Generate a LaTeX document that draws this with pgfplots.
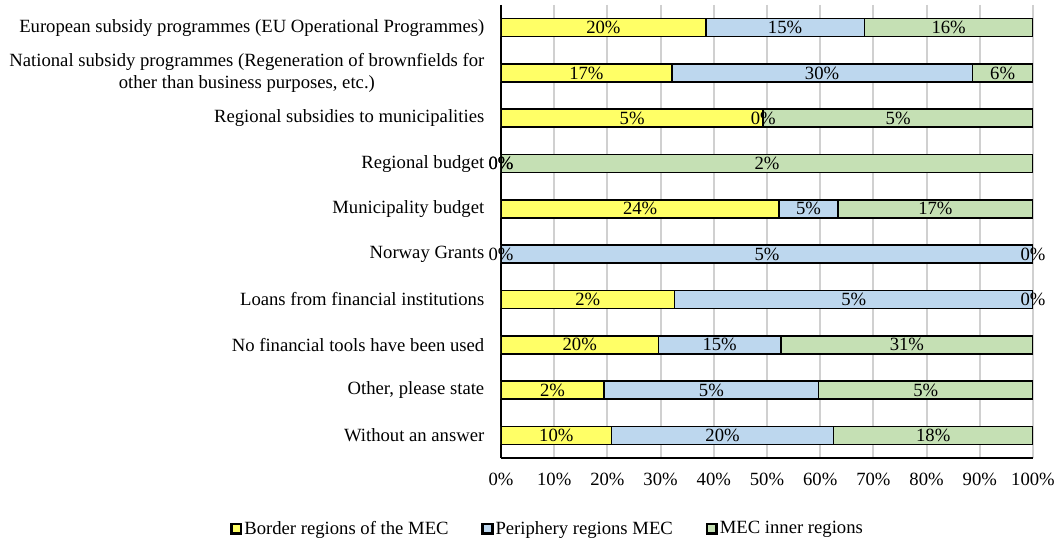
\documentclass[border=0pt]{standalone}
\usepackage{pgfplots}
\pgfplotsset{compat=1.18}
\usepackage{fontspec}
\setmainfont{Liberation Serif}
\definecolor{cy}{HTML}{FFFF66}
\definecolor{cb}{HTML}{BDD7EE}
\definecolor{cg}{HTML}{C5E0B4}
\definecolor{grd}{HTML}{D0D0D0}
\newcommand\f{\fontsize{14}{16.5}\selectfont}
\begin{document}
\begin{tikzpicture}
\pgfplotsset{
  common/.style={
    scale only axis, width=399pt, height=339.75pt,
    xmin=0, xmax=100, ymin=-0.5, ymax=9.5, y dir=reverse,
  },
  sq/.style={legend image code/.code={\fill[black] (0pt,-4pt) rectangle (8pt,4pt);
    \fill[##1] (0.9pt,-3.1pt) rectangle (7.1pt,3.1pt);}},
}
\begin{axis}[common, name=main,
  xbar stacked, bar width=13.5pt,
  axis x line*=bottom, axis y line*=left,
  axis line style={black, line width=1pt},
  major tick length=0pt,
  xtick={0,10,...,100},
  xticklabels={0\%,10\%,20\%,30\%,40\%,50\%,60\%,70\%,80\%,90\%,100\%},
  xmajorgrids=true, ymajorgrids=false,
  x grid style={grd, line width=1.4pt},
  ytick={0,...,9},
  yticklabels={European subsidy programmes (EU Operational Programmes),
    {National subsidy programmes (Regeneration of brownfields for\\other than business purposes, etc.)},
    Regional subsidies to municipalities, Regional budget, Municipality budget,
    Norway Grants, Loans from financial institutions, No financial tools have been used,
    {Other, please state}, Without an answer},
  yticklabel style={font=\f, align=center, xshift=-9pt},
  xticklabel style={font=\f, yshift=-8pt},
  legend style={at={(0.0874,-0.156)}, anchor=center, draw=none, font=\f,
    legend columns=3, nodes={inner xsep=1.5pt},
    /tikz/every even column/.append style={column sep=23pt}},
]
\addplot[fill=cy, draw=black, line width=1.2pt, sq] coordinates {
(38.5,0) (32.1,1) (49.3,2) (0,3) (52.3,4) (0,5) (32.6,6) (29.6,7) (19.4,8) (20.8,9)};
\addplot[fill=cb, draw=black, line width=1.2pt, sq] coordinates {
(29.8,0) (56.5,1) (0,2) (0,3) (11.0,4) (100,5) (67.4,6) (23.0,7) (40.3,8) (41.7,9)};
\addplot[fill=cg, draw=black, line width=1.2pt, sq] coordinates {
(31.7,0) (11.4,1) (50.7,2) (100,3) (36.7,4) (0,5) (0,6) (47.4,7) (40.3,8) (37.5,9)};
\legend{Border regions of the MEC, Periphery regions MEC, MEC inner regions}
\end{axis}
\begin{axis}[common, hide axis, clip=false,
  /pgf/number format/assume math mode=true]
\addplot[draw=none, mark=none, nodes near coords, nodes near coords align=center,
  point meta=explicit,
  nodes near coords={\pgfmathprintnumber[fixed,precision=0]{\pgfplotspointmeta}\%},
  every node near coord/.style={font=\f, black, inner sep=0pt, anchor=center}]
coordinates {
(19.25,0) [20] (53.4,0) [15] (84.15,0) [16]
(16.05,1) [17] (60.35,1) [30] (94.3,1) [6]
(24.65,2) [5] (49.3,2) [0] (74.65,2) [5]
(0,3) [0] (0,3) [0] (50,3) [2]
(26.15,4) [24] (57.8,4) [5] (81.65,4) [17]
(0,5) [0] (50,5) [5] (100,5) [0]
(16.3,6) [2] (66.3,6) [5] (100,6) [0]
(14.8,7) [20] (41.1,7) [15] (76.3,7) [31]
(9.7,8) [2] (39.55,8) [5] (79.85,8) [5]
(10.4,9) [10] (41.65,9) [20] (81.25,9) [18]
};
\end{axis}
\pgfresetboundingbox
\path[use as bounding box] ([shift={(-375.75pt,-60.75pt)}]main.south west) rectangle ([shift={(20.25pt,3.75pt)}]main.north east);
\end{tikzpicture}
\end{document}
